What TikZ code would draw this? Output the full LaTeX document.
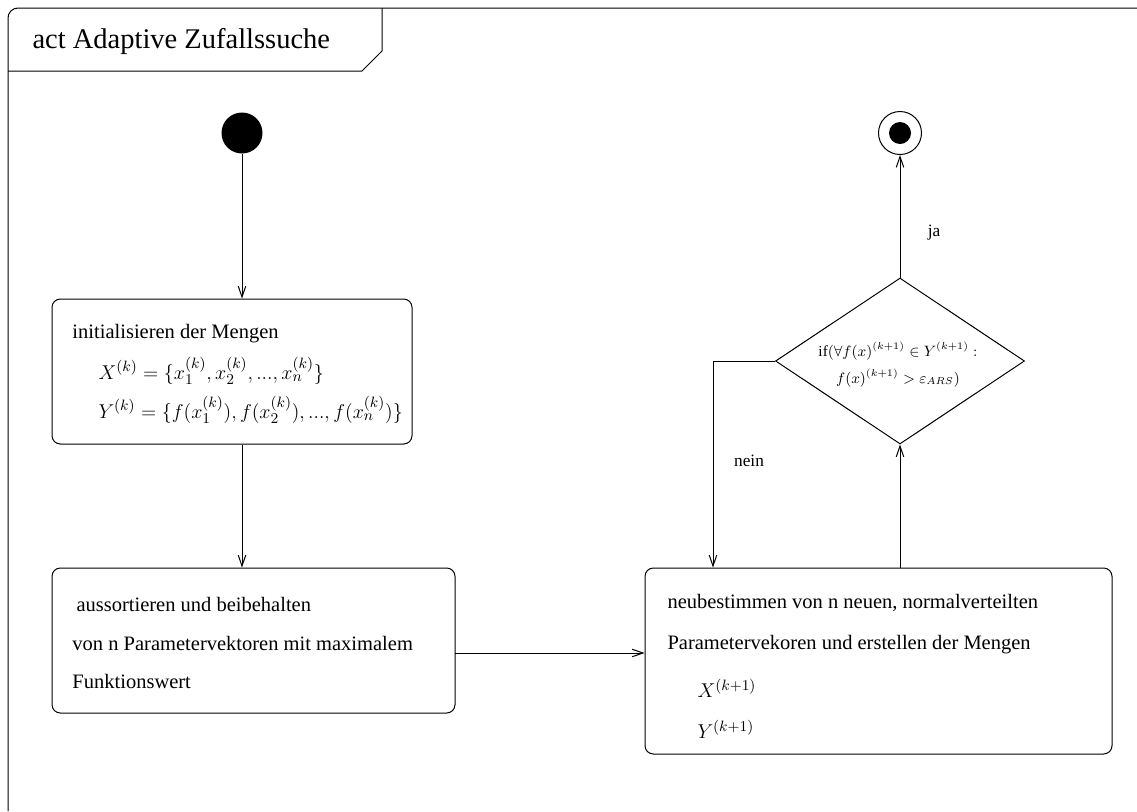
\documentclass[tikz,border=0pt]{standalone}
\usepackage{fontspec}
\setmainfont{Liberation Serif}
\usetikzlibrary{shapes.geometric,arrows.meta}

\begin{document}
\begin{tikzpicture}[x=0.6pt,y=-0.6pt,
  line width=0.6pt,
  font=\rmfamily,
  arr/.style={-{Straight Barb[length=6.5pt,width=4.5pt]}},
  actbox/.style={draw,rounded corners=5pt,inner sep=0pt},
  body/.style={font=\rmfamily\fontsize{12.3}{15}\selectfont,anchor=west,inner sep=0pt},
  lbl/.style={font=\rmfamily\fontsize{10.4}{12}\selectfont,inner sep=0pt},
  cond/.style={font=\rmfamily\fontsize{9.2}{11}\selectfont,inner sep=0pt}]
\useasboundingbox (0,0) rectangle (1137,811);

% activity frame and its name tab
\draw[rounded corners=6pt] (8,811) -- (8,8) -- (1137,8);
\draw (8,71) -- (362,71) -- (382,51) -- (382,8);
\node[anchor=west,inner sep=0pt,font=\rmfamily\fontsize{17.1}{20}\selectfont] (title) at (32,41) {act Adaptive Zufallssuche};

% initial and final nodes
\node[circle,fill=black,minimum size=41*0.6pt,inner sep=0pt] (start) at (242,133) {};
\node[circle,draw,minimum size=43*0.6pt,inner sep=0pt] (end) at (900,133) {};
\node[circle,fill=black,minimum size=22*0.6pt,inner sep=0pt] (endin) at (900,133) {};

% actions
\node[actbox,minimum width=360*0.6pt,minimum height=145*0.6pt] (box1) at (232,371.5) {};
\node[body] (t1a) at (72,334) {initialisieren der Mengen};
\node[body] (t1b) at (98,371) {$X^{(k)}=\{x_1^{(k)},x_2^{(k)},...,x_n^{(k)}\}$};
\node[body] (t1c) at (98,410) {$Y^{(k)}=\{f(x_1^{(k)}),f(x_2^{(k)}),...,f(x_n^{(k)})\}$};

\node[actbox,minimum width=403*0.6pt,minimum height=145*0.6pt] (box2) at (253.5,640.5) {};
\node[body] (t2a) at (76,604) {aussortieren und beibehalten};
\node[body] (t2b) at (72,643) {von n Parametervektoren mit maximalem};
\node[body] (t2c) at (72,681) {Funktionswert};

\node[actbox,minimum width=467*0.6pt,minimum height=186*0.6pt] (box3) at (878.5,661) {};
\node[body] (t3a) at (667,603) {neubestimmen von n neuen, normalverteilten};
\node[body] (t3b) at (667,645) {Parametervekoren und erstellen der Mengen};
\node[body] (t3c) at (697,688) {$X^{(k+1)}$};
\node[body] (t3d) at (697,729) {$Y^{(k+1)}$};

% decision
\node[diamond,draw,minimum width=249*0.6pt,minimum height=166*0.6pt,inner sep=0pt] (dec) at (900,361) {};
\node[cond] (c1) at (898,351) {if$(\forall f(x)^{(k+1)}\in Y^{(k+1)}:$};
\node[cond] (c2) at (898,378) {$f(x)^{(k+1)}>\varepsilon_{ARS})$};

% control flows
\draw[arr] (start) -- (start |- box1.north);
\draw[arr] (start |- box1.south) -- (start |- box2.north);
\coordinate (m) at (455,653);
\draw[arr] (m) -- (m -| box3.west);
\draw[arr] (dec.south |- box3.north) -- (dec.south);
\coordinate (nb) at (713,361);
\draw[arr] (dec.west) -- (nb) -- (nb |- box3.north);
\draw[arr] (dec.north) -- (end.south);

\node[lbl] (nein) at (749,461) {nein};
\node[lbl] (ja) at (934,233) {ja};
\end{tikzpicture}
\end{document}
